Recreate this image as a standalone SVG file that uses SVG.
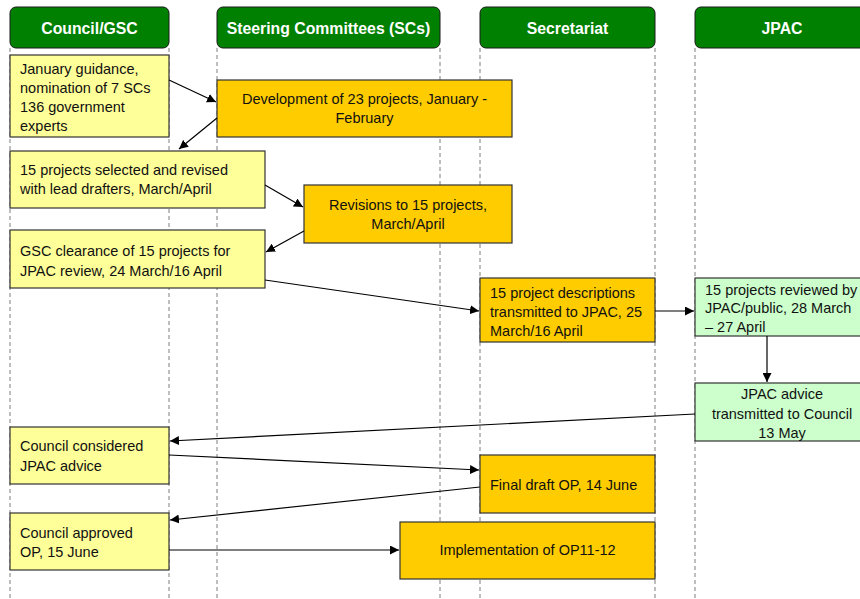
<svg xmlns="http://www.w3.org/2000/svg" width="860" height="599" viewBox="0 0 860 599">
<defs>
<marker id="ah" viewBox="0 0 10 10" refX="10" refY="5" markerWidth="9" markerHeight="9" markerUnits="userSpaceOnUse" orient="auto">
<path d="M0,0 L10,5 L0,10 z" fill="#000"/>
</marker>
<style>
.lane{stroke:#7f7f7f;stroke-width:1;stroke-dasharray:4,3;fill:none}
.hdr rect{fill:#008000;stroke:#1a1a1a;stroke-width:1}
.hdr text{fill:#fff;font-family:"Liberation Sans",Arial,sans-serif;font-weight:bold;font-size:15.8px;text-anchor:middle}
.y rect{fill:#ffff99;stroke:#333;stroke-width:1.2}
.o rect{fill:#ffcc00;stroke:#333;stroke-width:1.2}
.g rect{fill:#ccffcc;stroke:#333;stroke-width:1.2}
.node text{font-family:"Liberation Sans",Arial,sans-serif;font-size:14.5px;fill:#111}
.c{text-anchor:middle}
#connectors line{stroke:#000;stroke-width:1.2;marker-end:url(#ah)}
</style>
</defs>
<rect width="860" height="599" fill="#fff"/>
<g id="lanes">
<line class="lane" x1="10" y1="48" x2="10" y2="599"/>
<line class="lane" x1="169" y1="48" x2="169" y2="599"/>
<line class="lane" x1="217" y1="48" x2="217" y2="599"/>
<line class="lane" x1="440" y1="48" x2="440" y2="599"/>
<line class="lane" x1="480" y1="48" x2="480" y2="599"/>
<line class="lane" x1="655" y1="48" x2="655" y2="599"/>
<line class="lane" x1="695" y1="48" x2="695" y2="599"/>
</g>
<g id="h-council" class="hdr"><rect x="10" y="7" width="159" height="41" rx="6"/><text x="89.5" y="34">Council/GSC</text></g>
<g id="h-sc" class="hdr"><rect x="217" y="7" width="223" height="41" rx="6"/><text x="328.5" y="34">Steering Committees (SCs)</text></g>
<g id="h-sec" class="hdr"><rect x="480" y="7" width="175" height="41" rx="6"/><text x="567.5" y="34">Secretariat</text></g>
<g id="h-jpac" class="hdr"><rect x="695" y="7" width="174" height="41" rx="6"/><text x="782" y="34">JPAC</text></g>

<g id="n1" class="node y"><rect x="10" y="55" width="159" height="82"/>
<text x="20" y="74">January guidance,</text><text x="20" y="93">nomination of 7 SCs</text><text x="20" y="112">136 government</text><text x="20" y="131">experts</text></g>
<g id="n2" class="node o"><rect x="217" y="80" width="295" height="57"/>
<text class="c" x="364.5" y="104">Development of 23 projects, January -</text><text class="c" x="364.5" y="123">February</text></g>
<g id="n3" class="node y"><rect x="10" y="151" width="255" height="57"/>
<text x="20" y="175">15 projects selected and revised</text><text x="20" y="194">with lead drafters, March/April</text></g>
<g id="n4" class="node o"><rect x="304" y="185" width="208" height="58"/>
<text class="c" x="408" y="210">Revisions to 15 projects,</text><text class="c" x="408" y="229">March/April</text></g>
<g id="n5" class="node y"><rect x="10" y="230" width="255" height="58"/>
<text x="20" y="256">GSC clearance of 15 projects for</text><text x="20" y="276">JPAC review, 24 March/16 April</text></g>
<g id="n6" class="node o"><rect x="480" y="278" width="175" height="64"/>
<text x="490" y="298">15 project descriptions</text><text x="490" y="317">transmitted to JPAC, 25</text><text x="490" y="336">March/16 April</text></g>
<g id="n7" class="node g"><rect x="695" y="278" width="174" height="58"/>
<text x="705" y="295">15 projects reviewed by</text><text x="705" y="313">JPAC/public, 28 March</text><text x="705" y="332">– 27 April</text></g>
<g id="n8" class="node g"><rect x="695" y="383" width="174" height="58"/>
<text class="c" x="782" y="399">JPAC advice</text><text class="c" x="782" y="419">transmitted to Council</text><text class="c" x="782" y="438">13 May</text></g>
<g id="n9" class="node y"><rect x="10" y="427" width="159" height="57"/>
<text x="20" y="451">Council considered</text><text x="20" y="471">JPAC advice</text></g>
<g id="n10" class="node o"><rect x="480" y="455" width="175" height="58"/>
<text x="490" y="490">Final draft OP, 14 June</text></g>
<g id="n11" class="node y"><rect x="10" y="513" width="159" height="57"/>
<text x="20" y="538">Council approved</text><text x="20" y="557">OP, 15 June</text></g>
<g id="n12" class="node o"><rect x="400" y="522" width="255" height="57"/>
<text class="c" x="527.5" y="555">Implementation of OP11-12</text></g>

<g id="connectors">
<line x1="169" y1="80" x2="216" y2="102"/>
<line x1="217" y1="118" x2="179" y2="149"/>
<line x1="265" y1="185" x2="303" y2="207"/>
<line x1="304" y1="231" x2="266" y2="252"/>
<line x1="265" y1="280" x2="479" y2="311"/>
<line x1="655" y1="311" x2="694" y2="311"/>
<line x1="767" y1="336" x2="767" y2="382"/>
<line x1="695" y1="414" x2="170" y2="441"/>
<line x1="169" y1="455" x2="479" y2="470"/>
<line x1="480" y1="487" x2="170" y2="520"/>
<line x1="169" y1="550" x2="399" y2="550"/>
</g>
</svg>
